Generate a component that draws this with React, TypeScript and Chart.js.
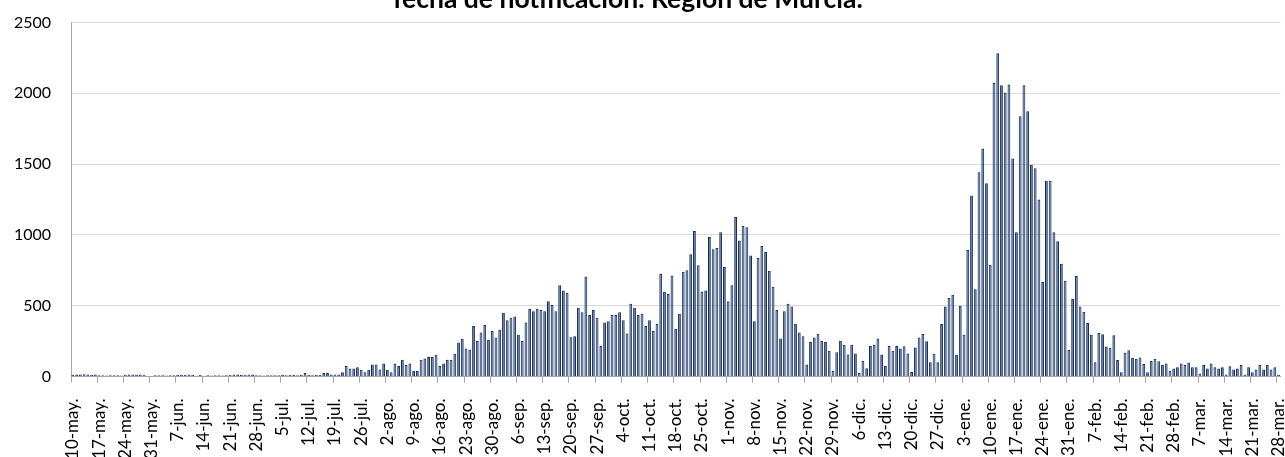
import React, { useEffect, useRef } from 'react';
import { Chart, registerables } from 'chart.js';

Chart.register(...registerables);

const TITLE = 'fecha de notificación. Región de Murcia.';
const MONTH_NAMES = ['ene', 'feb', 'mar', 'abr', 'may', 'jun', 'jul', 'ago', 'sep', 'oct', 'nov', 'dic'];
const FIRST_DAY = { year: 2020, month: 4, day: 10 }; // 10-may-2020
const Y_MIN = 0;
const Y_MAX = 2500;
const Y_STEP = 500;
const LABEL_EVERY = 7;

// Daily cases (10-may-2020 .. 28-mar-2021), by month
const casesMay = [12, 15, 14, 16, 15, 13, 15, 8, 9, 7, 8, 9, 8, 7, 13, 15, 14, 12, 15, 13, 0, 0];
const casesJun = [8, 9, 8, 7, 9, 8, 12, 13, 11, 14, 12, 0, 11, 0, 8, 7, 9, 8, 7, 8, 13, 15, 14, 12, 13, 15, 14, 8, 9, 7];
const casesJul = [8, 9, 8, 9, 10, 9, 11, 10, 9, 12, 25, 10, 9, 11, 10, 24, 24, 14, 14, 14, 30, 75, 57, 57, 66, 47, 30, 47, 85, 85, 50];
const casesAgo = [92, 47, 30, 92, 75, 118, 82, 92, 40, 40, 118, 127, 137, 137, 153, 75, 92, 118, 118, 160, 240, 266, 198, 189, 356, 250, 311, 363, 259, 321, 276];
const casesSep = [330, 450, 398, 415, 424, 295, 250, 382, 479, 460, 479, 469, 460, 531, 505, 460, 644, 608, 592, 278, 285, 486, 453, 707, 434, 469, 415, 215, 382, 391];
const casesOct = [434, 434, 453, 398, 304, 514, 486, 434, 443, 356, 398, 321, 373, 724, 599, 582, 714, 337, 443, 740, 750, 863, 1028, 785, 601, 608, 986, 898, 908, 1019, 773];
const casesNov = [531, 644, 1127, 960, 1063, 1054, 854, 391, 837, 922, 880, 747, 634, 469, 269, 460, 514, 495, 373, 311, 285, 85, 243, 276, 302, 252, 243, 182, 40, 172];
const casesDic = [252, 224, 156, 224, 163, 24, 111, 59, 215, 224, 269, 156, 75, 215, 182, 215, 198, 214, 162, 31, 204, 275, 301, 249, 101, 160, 101, 371, 494, 555, 578];
const casesEne = [153, 500, 294, 893, 1278, 616, 1443, 1610, 1365, 790, 2073, 2282, 2056, 2005, 2063, 1539, 1018, 1838, 2056, 1873, 1495, 1471, 1250, 667, 1382, 1382, 1018, 956, 797, 677, 188];
const casesFeb = [548, 710, 494, 458, 378, 294, 101, 308, 298, 212, 203, 291, 117, 30, 168, 186, 133, 126, 135, 89, 30, 110, 126, 107, 82, 91, 40, 56];
const casesMar = [65, 91, 82, 98, 65, 65, 21, 82, 56, 91, 65, 56, 65, 14, 72, 49, 56, 82, 12, 65, 30, 49, 82, 49, 82, 49, 65, 12];

const CASES = [
  ...casesMay, ...casesJun, ...casesJul, ...casesAgo, ...casesSep, ...casesOct,
  ...casesNov, ...casesDic, ...casesEne, ...casesFeb, ...casesMar,
];

function buildDayLabels(count: number): string[] {
  const out: string[] = [];
  const d = new Date(Date.UTC(FIRST_DAY.year, FIRST_DAY.month, FIRST_DAY.day));
  for (let i = 0; i < count; i++) {
    out.push(`${d.getUTCDate()}-${MONTH_NAMES[d.getUTCMonth()]}.`);
    d.setUTCDate(d.getUTCDate() + 1);
  }
  return out;
}

const DAY_LABELS = buildDayLabels(CASES.length);

const CANVAS_W = 1340;
const CANVAS_H = 520;
const CANVAS_LEFT = -25;
const CANVAS_TOP = -20;

export default function App() {
  const ref = useRef<HTMLCanvasElement | null>(null);

  useEffect(() => {
    if (!ref.current) return;
    const tickCol = (ctx: any) =>
      ctx && ctx.index !== undefined && ctx.index % LABEL_EVERY === 0 ? '#A6A6A6' : 'rgba(0,0,0,0)';
    const chart = new Chart(ref.current, {
      type: 'bar',
      data: {
        labels: DAY_LABELS,
        datasets: [
          {
            data: CASES,
            backgroundColor: '#4A6CA3',
            borderColor: '#172B4D',
            borderWidth: 1,
            borderSkipped: 'start',
            barPercentage: 0.75,
            categoryPercentage: 1,
          },
        ],
      },
      options: {
        responsive: false,
        animation: false,
        devicePixelRatio: 1,
        layout: { padding: { left: 0, right: 34.4, top: 0, bottom: 0 } },
        plugins: {
          legend: { display: false },
          tooltip: { enabled: false },
          title: {
            display: true,
            text: TITLE,
            color: '#000',
            font: { family: 'Lato', size: 26.5, weight: 'bold', lineHeight: 1.2 },
            padding: { top: 4, bottom: 6.7 },
          },
        },
        scales: {
          x: {
            type: 'category',
            offset: true,
            afterFit: (scale: any) => {
              scale.height = 123.5;
            },
            grid: {
              offset: true,
              drawOnChartArea: false,
              drawTicks: true,
              tickLength: 6,
              color: tickCol,
              tickColor: tickCol,
              lineWidth: 1,
            },
            border: { display: true, color: '#A6A6A6', width: 1 },
            ticks: {
              autoSkip: false,
              minRotation: 90,
              maxRotation: 90,
              padding: 16,
              color: '#000',
              font: { family: 'Lato', size: 17 },
              callback: (_v: any, index: number) => (index % LABEL_EVERY === 0 ? DAY_LABELS[index] : ''),
            },
          },
          y: {
            min: Y_MIN,
            max: Y_MAX,
            afterFit: (scale: any) => {
              scale.width = 96;
            },
            grid: { color: '#D9D9D9', lineWidth: 1, drawTicks: false },
            border: { display: true, color: '#A6A6A6', width: 1 },
            ticks: {
              stepSize: Y_STEP,
              padding: 20,
              color: '#000',
              font: { family: 'Lato', size: 16 },
              callback: (v: any) => String(v),
            },
          },
        },
      },
    });
    return () => chart.destroy();
  }, []);

  return (
    <div
      style={{
        position: 'fixed',
        left: 0,
        top: 0,
        width: 1285,
        height: 457,
        overflow: 'hidden',
        background: '#fff',
      }}
    >
      <canvas
        ref={ref}
        width={CANVAS_W}
        height={CANVAS_H}
        style={{ position: 'absolute', left: CANVAS_LEFT, top: CANVAS_TOP, width: CANVAS_W, height: CANVAS_H }}
      />
    </div>
  );
}
